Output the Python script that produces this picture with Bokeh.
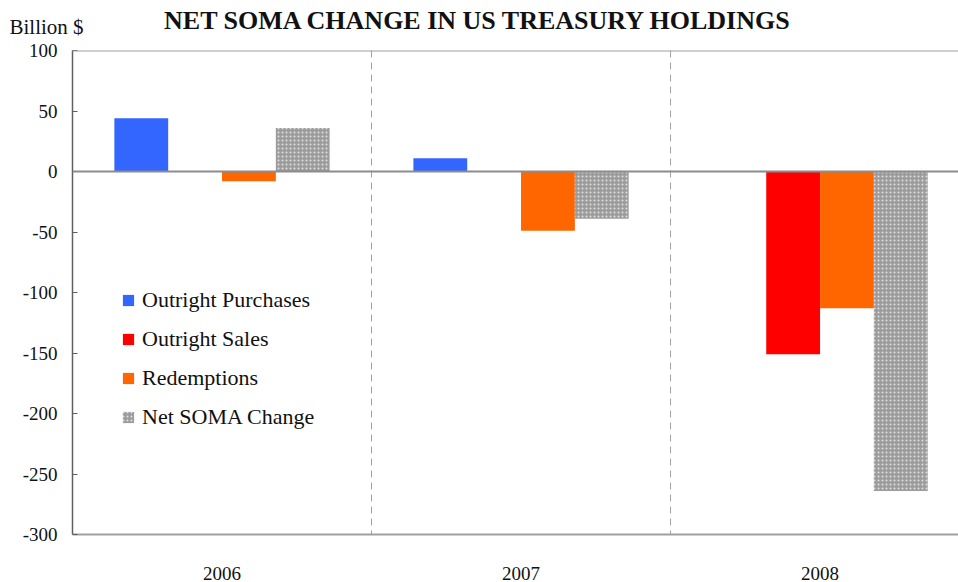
from bokeh.plotting import figure
from bokeh.layouts import column
from bokeh.models import (ColumnDataSource, Range1d, FixedTicker, Span, Label,
                          Legend, LegendItem)
from bokeh.transform import dodge
from bokeh.embed import file_html
from bokeh.resources import INLINE

title_text = "NET SOMA CHANGE IN US TREASURY HOLDINGS"
unit_text = "Billion $"
years = ["2006", "2007", "2008"]
outright_purchases = [44, 11, 0]
outright_sales = [0, 0, -151]
redemptions = [-8, -49, -113]
net_soma_change = [36, -39, -264]
y_ticks = [-300, -250, -200, -150, -100, -50, 0, 50, 100]

FONT = "Liberation Serif"

# ---- header strip (title + unit label) ----
hdr = figure(width=958, height=38, output_backend="svg", toolbar_location=None,
             x_range=Range1d(0, 958), y_range=Range1d(38, 0),
             x_axis_type=None, y_axis_type=None,
             min_border_left=0, min_border_right=0, min_border_top=0,
             min_border_bottom=0)
hdr.frame_align = False
hdr.outline_line_color = None
hdr.grid.visible = False
hdr.add_layout(Label(x=478, y=20, text=title_text, text_font=FONT,
                     text_font_size="26px", text_font_style="bold",
                     text_align="center", text_baseline="alphabetic",
                     text_color="#111111"))
hdr.add_layout(Label(x=9, y=26, text=unit_text, text_font=FONT,
                     text_font_size="21px", text_align="left",
                     text_baseline="alphabetic", text_color="#111111"))

# ---- main chart ----
src = ColumnDataSource(dict(
    x=list(range(len(years))),
    purch=outright_purchases,
    sales=outright_sales,
    red=redemptions,
    net=net_soma_change,
))

p = figure(width=958, height=544, output_backend="svg", toolbar_location=None,
           x_range=Range1d(-0.5, 2.463), y_range=Range1d(-300, 100),
           min_border_left=72, min_border_right=0, min_border_top=12,
           min_border_bottom=46)
p.frame_align = False
p.outline_line_color = None
p.grid.visible = False

W = 0.18
r1 = p.vbar(x=dodge("x", -0.27), top="purch", bottom=0, width=W, source=src,
            fill_color="#3366FF", line_color=None)
r2 = p.vbar(x=dodge("x", -0.09), top="sales", bottom=0, width=W, source=src,
            fill_color="#FF0000", line_color=None)
r3 = p.vbar(x=dodge("x", 0.09), top="red", bottom=0, width=W, source=src,
            fill_color="#FF6600", line_color=None)
r4 = p.vbar(x=dodge("x", 0.27), top="net", bottom=0, width=W, source=src,
            fill_color="#9c9c9c", line_color=None,
            hatch_pattern="dot", hatch_color="#e0e0e0", hatch_scale=4,
            hatch_weight=1.5)

for xs in [0.5, 1.5]:
    p.add_layout(Span(location=xs, dimension="height", line_color="#a0a0a0",
                      line_dash="7 5", line_width=1))
p.add_layout(Span(location=0, dimension="width", line_color="#8c8c8c",
                  line_width=2))
p.add_layout(Span(location=100, dimension="width", line_color="#a0a0a0",
                  line_width=2))

p.xaxis.ticker = FixedTicker(ticks=list(range(len(years))))
p.xaxis.major_label_overrides = {i: y for i, y in enumerate(years)}
p.xaxis.major_tick_line_color = None
p.xaxis.minor_tick_line_color = None
p.xaxis.axis_line_color = "#a0a0a0"
p.xaxis.axis_line_width = 2
p.xaxis.major_label_standoff = 26
p.xaxis.major_label_text_font = FONT
p.xaxis.major_label_text_font_size = "19px"
p.xaxis.major_label_text_color = "#111111"

p.yaxis.ticker = FixedTicker(ticks=y_ticks)
p.yaxis.major_label_overrides = {t: str(t) for t in y_ticks}
p.yaxis.major_tick_in = 5
p.yaxis.major_tick_out = 0
p.yaxis.minor_tick_line_color = None
p.yaxis.axis_line_color = "#606060"
p.yaxis.axis_line_width = 1.5
p.yaxis.major_tick_line_color = "#606060"
p.yaxis.major_label_standoff = 15
p.yaxis.major_label_text_font = FONT
p.yaxis.major_label_text_font_size = "19px"
p.yaxis.major_label_text_color = "#111111"

legend = Legend(items=[
    LegendItem(label="Outright Purchases", renderers=[r1]),
    LegendItem(label="Outright Sales", renderers=[r2]),
    LegendItem(label="Redemptions", renderers=[r3]),
    LegendItem(label="Net SOMA Change", renderers=[r4]),
], location=(49, 104))
legend.border_line_color = None
legend.background_fill_alpha = 0
legend.padding = 0
legend.margin = 0
legend.spacing = 13
legend.glyph_height = 14
legend.glyph_width = 14
legend.label_height = 25
legend.label_standoff = 7
legend.label_text_font = FONT
legend.label_text_font_size = "22px"
legend.label_text_color = "#111111"
p.add_layout(legend)

layout = column(hdr, p, spacing=0)
open("out.html", "w").write(file_html(layout, INLINE))
